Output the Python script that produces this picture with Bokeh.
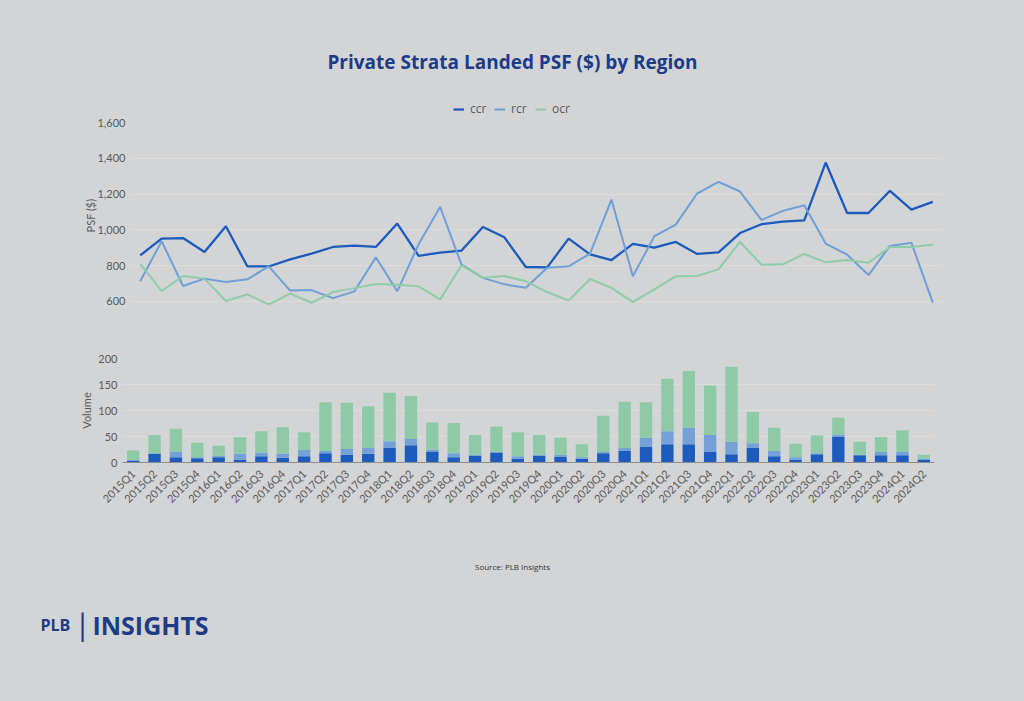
import math
from bokeh.plotting import figure
from bokeh.models import Range1d, FactorRange, Label, NumeralTickFormatter, ColumnDataSource
from bokeh.layouts import column
from bokeh.embed import file_html
from bokeh.resources import INLINE

quarters = ["2015Q1", "2015Q2", "2015Q3", "2015Q4",
            "2016Q1", "2016Q2", "2016Q3", "2016Q4",
            "2017Q1", "2017Q2", "2017Q3", "2017Q4",
            "2018Q1", "2018Q2", "2018Q3", "2018Q4",
            "2019Q1", "2019Q2", "2019Q3", "2019Q4",
            "2020Q1", "2020Q2", "2020Q3", "2020Q4",
            "2021Q1", "2021Q2", "2021Q3", "2021Q4",
            "2022Q1", "2022Q2", "2022Q3", "2022Q4",
            "2023Q1", "2023Q2", "2023Q3", "2023Q4",
            "2024Q1", "2024Q2"]

ccr_psf = [857, 951, 954, 876, 1020, 796, 795, 835, 867, 904, 911, 904,
           1035, 854, 873, 884, 1016, 958, 792, 790, 951, 863, 831, 921,
           900, 932, 865, 874, 982, 1031, 1046, 1053, 1376, 1094, 1094, 1218,
           1113, 1156]
rcr_psf = [712, 936, 686, 727, 708, 723, 796, 660, 663, 618, 656, 846,
           656, 920, 1128, 805, 731, 695, 676, 788, 796, 867, 1169, 740,
           964, 1029, 1203, 1268, 1214, 1055, 1106, 1137, 923, 861, 747, 910,
           928, 593]
ocr_psf = [809, 658, 742, 727, 602, 639, 583, 643, 592, 652, 674, 697,
           693, 684, 611, 801, 732, 742, 712, 652, 604, 725, 675, 596,
           667, 740, 742, 779, 932, 805, 807, 865, 818, 831, 816, 904,
           904, 917]

ccr_vol = [3, 17, 10, 8, 10, 6, 12, 9, 12, 18, 15, 17, 28, 33, 21, 10,
           13, 19, 7, 13, 11, 7, 18, 22, 30, 35, 35, 21, 16, 28, 12, 5,
           16, 49, 14, 14, 14, 5]
rcr_vol = [3, 1, 10, 2, 3, 11, 7, 8, 12, 4, 11, 11, 13, 12, 4, 8,
           2, 1, 5, 2, 4, 3, 2, 6, 18, 25, 32, 32, 24, 9, 10, 5,
           2, 5, 1, 6, 6, 2]
ocr_vol = [17, 35, 45, 28, 19, 32, 41, 51, 34, 94, 89, 80, 93, 83, 52, 58,
           38, 49, 46, 38, 33, 25, 70, 89, 68, 101, 109, 95, 144, 60, 45, 26,
           34, 32, 25, 29, 42, 8]

series = ["ccr", "rcr", "ocr"]
psf_ticks = [600, 800, 1000, 1200, 1400, 1600]
vol_ticks = [0, 50, 100, 150, 200]

BG = "#d3d4d6"
GRID = "#dcdcd8"
TXT = "#5a5a5a"
NAVY = "#1c3c87"
FONT = "Lato"
HFONT = "Open Sans"
LINE_COLORS = ["#1b5bbd", "#6f9fd8", "#8ecda8"]
LINE_WIDTHS = [2.3, 2.0, 2.0]
BAR_COLORS = ["#1d5cbd", "#76a1d8", "#8fcaa7"]
BG_STYLE = {"background-color": BG}
W = 1024


def base_fig(height, **kw):
    p = figure(width=W, height=height, output_backend="svg",
               toolbar_location=None, styles=BG_STYLE, title=None,
               frame_align=False, **kw)
    p.background_fill_color = BG
    p.border_fill_color = BG
    p.outline_line_color = None
    return p


def style_y(p):
    p.xgrid.visible = False
    p.ygrid.grid_line_color = GRID
    p.ygrid.grid_line_width = 1
    ax = p.yaxis[0]
    ax.axis_line_color = None
    ax.major_tick_line_color = None
    ax.minor_tick_line_color = None
    ax.major_tick_out = 0
    ax.major_tick_in = 0
    ax.minor_tick_out = 0
    ax.minor_tick_in = 0
    ax.major_label_text_color = TXT
    ax.major_label_text_font = FONT
    ax.major_label_text_font_size = "11px"
    ax.axis_label_text_color = TXT
    ax.axis_label_text_font = FONT
    ax.axis_label_text_font_size = "11px"
    ax.axis_label_text_font_style = "normal"


# ---------------- header: title + legend ----------------
head = base_fig(117, x_range=Range1d(0, 1), y_range=Range1d(0, 1),
                x_axis_location=None, y_axis_location=None, min_border=0)
head.grid.visible = False
nan = float("nan")
for name, col, w in zip(series, LINE_COLORS, LINE_WIDTHS):
    head.line(x=[nan], y=[nan], color=col, line_width=w, legend_label=name)
lg = head.legend[0]
lg.orientation = "horizontal"
lg.location = (453, 0)
lg.margin = 0
lg.padding = 0
lg.spacing = 4
lg.label_standoff = 6
lg.glyph_width = 11
lg.glyph_height = 10
lg.label_height = 10
lg.label_text_font = HFONT
lg.label_text_font_size = "12px"
lg.label_text_color = TXT
lg.background_fill_alpha = 0
lg.border_line_color = None
head.add_layout(Label(x=512, y=56, x_units="screen", y_units="screen",
                      text="Private Strata Landed PSF ($) by Region",
                      text_align="center", text_baseline="middle",
                      text_font=HFONT, text_font_style="bold",
                      text_font_size="19px", text_color=NAVY))

# ---------------- top: PSF lines ----------------
src1 = ColumnDataSource(dict(quarter=quarters, ccr=ccr_psf, rcr=rcr_psf, ocr=ocr_psf))
p1 = base_fig(213, x_range=FactorRange(*quarters), y_range=Range1d(560, 1600),
              x_axis_location=None,
              min_border_left=129, min_border_right=81,
              min_border_top=5, min_border_bottom=22)
style_y(p1)
p1.yaxis.ticker = psf_ticks
p1.yaxis.formatter = NumeralTickFormatter(format="0,0")
p1.yaxis.axis_label = "PSF ($)"
p1.yaxis.major_label_standoff = 4
p1.yaxis.axis_label_standoff = -3
for name, col, w in zip(series, LINE_COLORS, LINE_WIDTHS):
    p1.line(x="quarter", y=name, source=src1, color=col, line_width=w)

# ---------------- bottom: volume bars ----------------
src2 = ColumnDataSource(dict(quarter=quarters, ccr=ccr_vol, rcr=rcr_vol, ocr=ocr_vol))
p2 = base_fig(182, x_range=FactorRange(*quarters), y_range=Range1d(0, 200),
              min_border_left=122, min_border_right=90,
              min_border_top=28, min_border_bottom=50)
style_y(p2)
p2.yaxis.ticker = vol_ticks
p2.yaxis.axis_label = "Volume"
p2.yaxis.major_label_standoff = 5
p2.yaxis.axis_label_standoff = 2
p2.vbar_stack(series, x="quarter", width=0.58,
              color=BAR_COLORS, line_color=None, source=src2)
xa = p2.xaxis[0]
xa.major_label_orientation = math.pi / 4
xa.major_label_text_font = FONT
xa.major_label_text_font_size = "11px"
xa.major_label_text_color = TXT
xa.major_tick_line_color = None
xa.minor_tick_line_color = None
xa.axis_line_color = "#8c8c8c"
xa.axis_line_width = 1
xa.major_label_standoff = 3

# ---------------- footer: source + logo ----------------
foot = base_fig(189, x_range=Range1d(0, 1), y_range=Range1d(0, 1),
                x_axis_location=None, y_axis_location=None, min_border=0)
foot.grid.visible = False
foot.add_layout(Label(x=512, y=135, x_units="screen", y_units="screen",
                      text="Source: PLB Insights", text_align="center",
                      text_baseline="middle", text_font=HFONT,
                      text_font_size="8px", text_color="#333333"))
foot.add_layout(Label(x=40, y=77, x_units="screen", y_units="screen",
                      text="PLB", text_align="left", text_baseline="middle",
                      text_font=HFONT, text_font_style="bold",
                      text_font_size="16px", text_color=NAVY))
foot.add_layout(Label(x=82, y=77, x_units="screen", y_units="screen",
                      text="|", text_align="center", text_baseline="middle",
                      text_font=FONT, text_font_size="30px", text_color=NAVY))
foot.add_layout(Label(x=92, y=77, x_units="screen", y_units="screen",
                      text="INSIGHTS", text_align="left", text_baseline="middle",
                      text_font=HFONT, text_font_style="bold",
                      text_font_size="25px", text_color=NAVY))

layout = column(head, p1, p2, foot, spacing=0, styles=BG_STYLE)

html = file_html(layout, INLINE, title="Private Strata Landed PSF ($) by Region")
html = html.replace("</head>",
                    "<style>html, body { background-color: %s !important; }</style></head>" % BG, 1)
open("out.html", "w").write(html)
